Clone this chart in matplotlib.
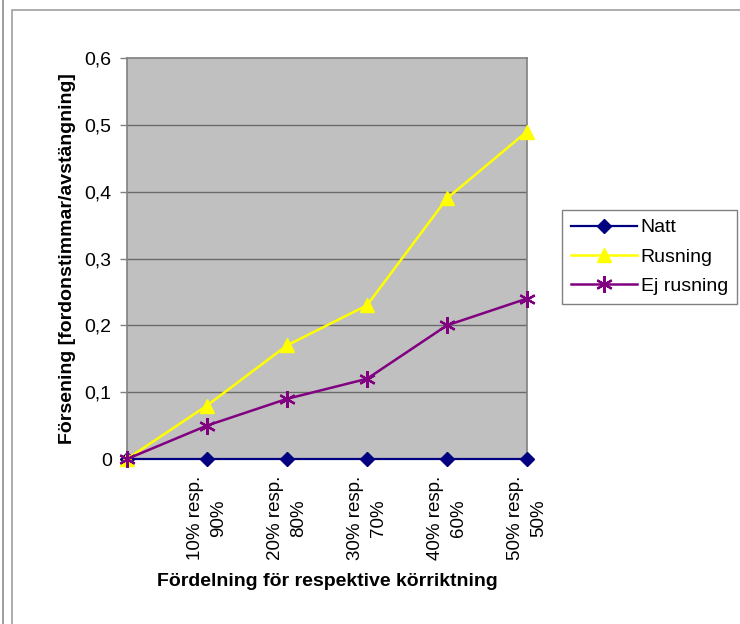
import matplotlib.pyplot as plt
from matplotlib.patches import Rectangle
from matplotlib.ticker import FuncFormatter

categories = ["", "10% resp.\n90%", "20% resp.\n80%", "30% resp.\n70%",
              "40% resp.\n60%", "50% resp.\n50%"]
natt = [0, 0, 0, 0, 0, 0]
rusning = [0, 0.08, 0.17, 0.23, 0.39, 0.49]
ej_rusning = [0, 0.05, 0.09, 0.12, 0.20, 0.24]

plt.rcParams['font.family'] = ['Liberation Sans', 'DejaVu Sans']

fig = plt.figure(figsize=(7.4, 6.24), dpi=100)
ax = fig.add_axes([127 / 740, 1 - 459 / 624, 400 / 740, 401 / 624])

# outer chart frame
fig.patches.append(Rectangle((12 / 740, -0.1), 2, 1 - 10 / 624 + 0.1,
                             transform=fig.transFigure, fill=False,
                             edgecolor='#a0a0a0', lw=1.2))
fig.patches.append(Rectangle((3 / 740, -0.1), 0.0, 1.2,
                             transform=fig.transFigure, fill=False,
                             edgecolor='#a0a0a0', lw=1.2))

ax.set_facecolor('#c0c0c0')
x = list(range(len(categories)))

for y in [0.1, 0.2, 0.3, 0.4, 0.5]:
    ax.axhline(y, color='#6a6a6a', lw=1, zorder=1)

ax.plot(x, natt, color='#000080', marker='D', ms=7, lw=1.6, label='Natt',
        zorder=3, clip_on=False)
ax.plot(x, rusning, color='#ffff00', marker='^', ms=10, lw=1.8, label='Rusning',
        zorder=3, clip_on=False)
ax.plot(x, ej_rusning, color='#800080', marker=(6, 2, 0), ms=12, mew=1.6, lw=1.8,
        label='Ej rusning', zorder=4, clip_on=False)

ax.set_xlim(0, 5)
ax.set_ylim(0, 0.6)
ax.set_yticks([0, 0.1, 0.2, 0.3, 0.4, 0.5, 0.6])
ax.yaxis.set_major_formatter(FuncFormatter(
    lambda v, p: '0' if abs(v) < 1e-9 else ('%.1f' % v).replace('.', ',')))
ax.set_xticks(x)
ax.set_xticklabels(categories, rotation=90, ha='center', va='top', fontsize=13.5,
                   linespacing=1.45)
ax.tick_params(axis='x', length=0, pad=12)
ax.tick_params(axis='y', length=5, width=1, color='#808080', labelsize=14, pad=6)

for s in ['top', 'right']:
    ax.spines[s].set_color('#808080')
ax.spines['left'].set_color('#808080')
ax.spines['bottom'].set_visible(False)
for s in ax.spines.values():
    s.set_linewidth(1.2)

ax.set_ylabel('Försening [fordonstimmar/avstängning]', fontsize=14,
              fontweight='bold', labelpad=6)
ax.set_xlabel('Fördelning för respektive körriktning', fontsize=14,
              fontweight='bold', labelpad=9)

leg = ax.legend(loc='upper left', bbox_to_anchor=(562 / 740, 1 - 210 / 624),
                bbox_transform=fig.transFigure, fancybox=False, framealpha=1,
                edgecolor='#808080', fontsize=14, handlelength=3.4,
                borderpad=0.45, labelspacing=0.6, handletextpad=0.2,
                borderaxespad=0)
leg.get_frame().set_linewidth(1)

fig.savefig('out.png', dpi=100)
